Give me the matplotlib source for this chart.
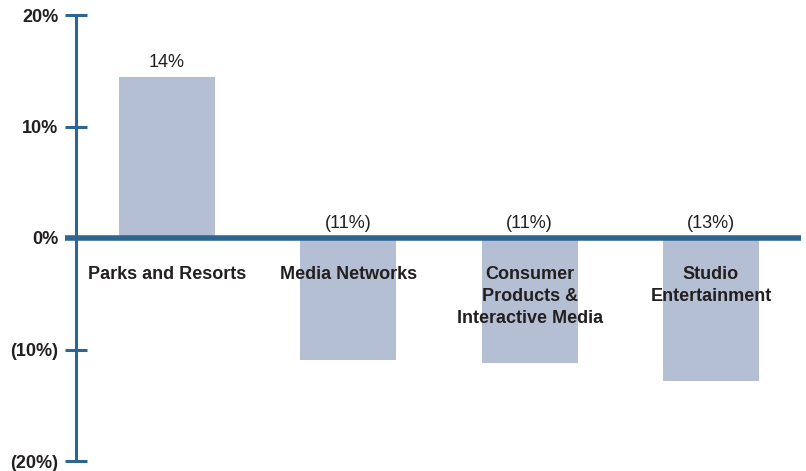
import matplotlib.pyplot as plt

categories = ["Parks and Resorts", "Media Networks",
              "Consumer\nProducts &\nInteractive Media", "Studio\nEntertainment"]
values = [14.4, -10.9, -11.2, -12.8]
value_labels = ["14%", "(11%)", "(11%)", "(13%)"]
y_ticks = [20, 10, 0, -10, -20]
y_tick_labels = ["20%", "10%", "0%", "(10%)", "(20%)"]

axis_color = "#2e6591"
bar_color = "#b4bfd3"
text_color = "#231f20"

plt.rcParams["font.family"] = ["Liberation Sans", "DejaVu Sans"]

fig = plt.figure(figsize=(8.06, 4.71), dpi=100)
W, H = 806, 471
x0, x1 = 76, 801
ytop, ybot = 15, 461
ax = fig.add_axes([x0 / W, (H - ybot) / H, (x1 - x0) / W, (ybot - ytop) / H])

spacing = 181.33
ax.set_xlim(-(167 - x0) / spacing, 3 + (x1 - 711) / spacing)
ax.set_ylim(-20, 20)

xs = range(len(categories))
ax.bar(xs, values, width=0.53, color=bar_color, zorder=1)

# zero line, reaching a bit left of the axis
ax.axhline(0, xmin=-11 / (x1 - x0), xmax=1, color=axis_color, lw=4,
           clip_on=False, zorder=3, solid_capstyle="butt")

for i, (v, lab) in enumerate(zip(values, value_labels)):
    ax.annotate(lab, (i, max(v, 0)), xytext=(0, 4.5), textcoords="offset points",
                ha="center", va="bottom", fontsize=13, color=text_color)
    ax.text(i, -2.5, categories[i], ha="center", va="top", fontsize=13,
            fontweight="bold", color=text_color, linespacing=1.38, zorder=4)

for s in ["top", "right", "bottom"]:
    ax.spines[s].set_visible(False)
ax.spines["left"].set_color(axis_color)
ax.spines["left"].set_linewidth(2.2)
ax.set_xticks([])
ax.set_yticks(y_ticks)
ax.set_yticklabels(y_tick_labels, fontweight="bold", fontsize=13, color=text_color)
ax.tick_params(axis="y", direction="inout", length=16.5, width=2.2,
               color=axis_color, pad=4.5)

fig.savefig("out.png", dpi=100)
